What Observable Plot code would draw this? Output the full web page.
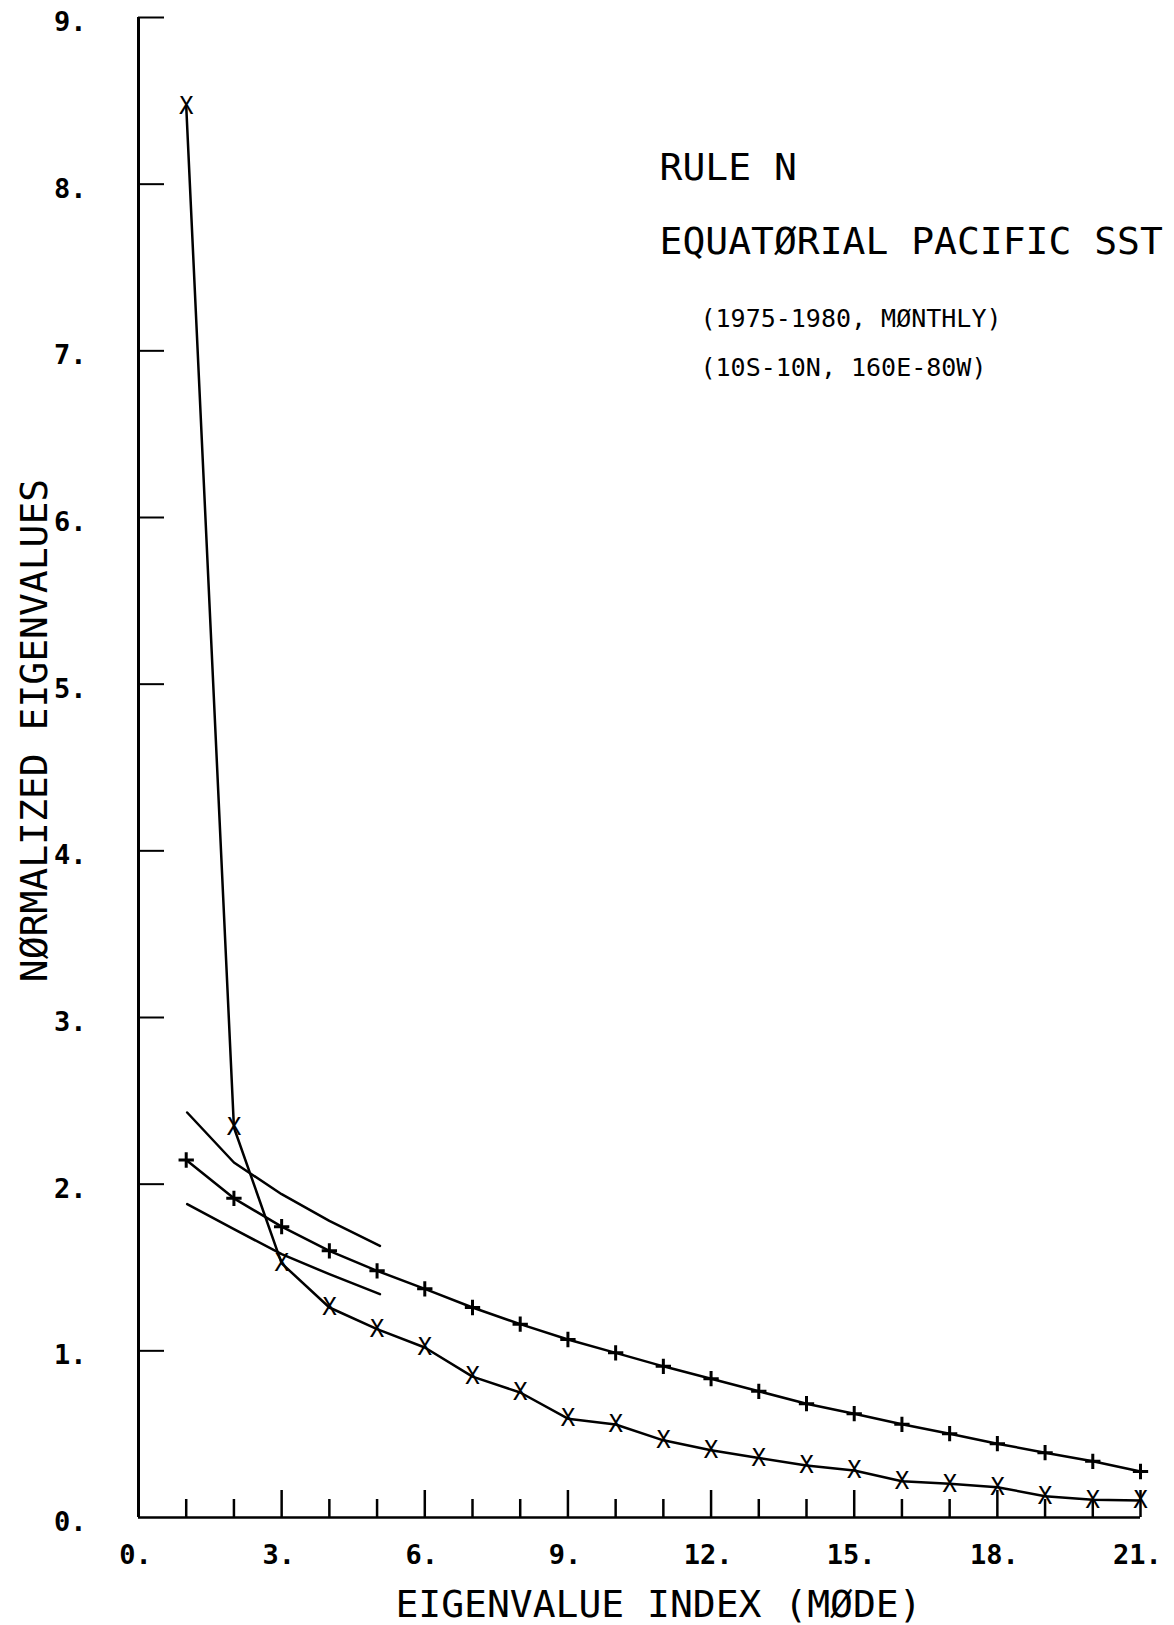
<!DOCTYPE html>
<html><head><meta charset="utf-8">
<script src="https://cdn.jsdelivr.net/npm/d3@7"></script>
<script src="https://cdn.jsdelivr.net/npm/@observablehq/plot@0.6"></script>
<style>html,body{margin:0;padding:0;background:#fff;} #chart svg{display:block}</style>
</head><body><div id="chart"></div>
<script>
// ---- data ----
const modes = [1,2,3,4,5,6,7,8,9,10,11,12,13,14,15,16,17,18,19,20,21];
const observed = [8.47, 2.34, 1.525, 1.26, 1.13, 1.02, 0.845, 0.75, 0.593, 0.558, 0.463, 0.403, 0.357, 0.312, 0.282, 0.218, 0.202, 0.182, 0.128, 0.106, 0.102];
const ruleN = [2.145, 1.915, 1.745, 1.60, 1.48, 1.372, 1.26, 1.16, 1.068, 0.988, 0.907, 0.833, 0.757, 0.683, 0.623, 0.559, 0.503, 0.443, 0.389, 0.337, 0.276];
const boundModes = [1.02, 2, 3, 4, 5.06];
const upperBound = [2.43, 2.13, 1.94, 1.78, 1.63];
const lowerBound = [1.88, 1.73, 1.58, 1.46, 1.34];
const yTickValues = [0,1,2,3,4,5,6,7,8,9];
const xLabelValues = [0,3,6,9,12,15,18,21];
const xMajorTicks = [3,6,9,12,15,18,21];
const xMinorTicks = [1,2,4,5,7,8,10,11,13,14,16,17,19,20];
const titleX = "EIGENVALUE INDEX (MØDE)";
const titleY = "NØRMALIZED EIGENVALUES";
const noteTitle = "RULE N";
const noteRegion = "EQUATØRIAL PACIFIC SST";
const notePeriod = "(1975-1980, MØNTHLY)";
const noteArea = "(10S-10N, 160E-80W)";

const obsData = modes.map((m,i)=>({m, v: observed[i]}));
const ruleData = modes.map((m,i)=>({m, v: ruleN[i]}));
const upData = boundModes.map((m,i)=>({m, v: upperBound[i]}));
const loData = boundModes.map((m,i)=>({m, v: lowerBound[i]}));

const W = 1174, H = 1625;
const mL = 138, mR = 34, mT = 17, mB = 108;
const fw = W - mL - mR, fh = H - mT - mB;
const FONT = "DejaVu Sans Mono";

const note = (t, dx, dy, size) => Plot.text([t], {text: d => d, frameAnchor: "top-left", textAnchor: "start", lineAnchor: "middle", dx, dy, fontSize: size});

const chart = Plot.plot({
  width: W, height: H,
  marginLeft: mL, marginRight: mR, marginTop: mT, marginBottom: mB,
  style: {fontFamily: FONT, color: "#000", background: "#fff"},
  x: {domain: [0, 21]},
  y: {domain: [0, 9]},
  marks: [
    // axes lines
    Plot.ruleX([0], {y1: 0, y2: 9, stroke: "#000", strokeWidth: 3}),
    Plot.ruleY([0], {x1: 0, x2: 21, stroke: "#000", strokeWidth: 2.5}),
    // inward ticks
    Plot.tickY(yTickValues.filter(d => d > 0), {y: d => d, stroke: "#000", strokeWidth: 2, insetRight: fw - 26}),
    Plot.tickX(xMajorTicks, {x: d => d, stroke: "#000", strokeWidth: 2.5, insetTop: fh - 27}),
    Plot.tickX(xMinorTicks, {x: d => d, stroke: "#000", strokeWidth: 2.5, insetTop: fh - 18}),
    // tick labels
    Plot.axisY({ticks: yTickValues, tickSize: 0, tickPadding: 52, tickFormat: d => d + ".", fontSize: 27, fontWeight: "bold", dy: 5, label: null}),
    Plot.axisX({ticks: xLabelValues, tickSize: 0, tickPadding: 27, tickFormat: d => d + ".", fontSize: 27, fontWeight: "bold", dx: -3, label: null}),
    // axis titles
    Plot.text([titleX], {text: d => d, frameAnchor: "bottom", textAnchor: "middle", dx: 19, dy: 87, fontSize: 38, lineAnchor: "middle"}),
    Plot.text([titleY], {text: d => d, frameAnchor: "left", textAnchor: "middle", rotate: -90, dx: -104, dy: -37, fontSize: 38, lineAnchor: "middle"}),
    // annotations
    note(noteTitle, 521, 150, 38),
    note(noteRegion, 521, 224, 38),
    note(notePeriod, 562, 301, 25),
    note(noteArea, 562, 350, 25),
    // data lines
    Plot.line(upData, {x: "m", y: "v", stroke: "#000", strokeWidth: 2.5}),
    Plot.line(loData, {x: "m", y: "v", stroke: "#000", strokeWidth: 2.5}),
    Plot.line(ruleData, {x: "m", y: "v", stroke: "#000", strokeWidth: 2.5}),
    Plot.line(obsData, {x: "m", y: "v", stroke: "#000", strokeWidth: 2.5}),
    Plot.dot(ruleData, {x: "m", y: "v", symbol: "plus", r: 5, stroke: "#000", strokeWidth: 3}),
    Plot.text(obsData, {x: "m", y: "v", text: () => "X", fontSize: 24, lineAnchor: "middle", fill: "#000"})
  ]
});
document.getElementById("chart").appendChild(chart);
</script>
</body></html>
